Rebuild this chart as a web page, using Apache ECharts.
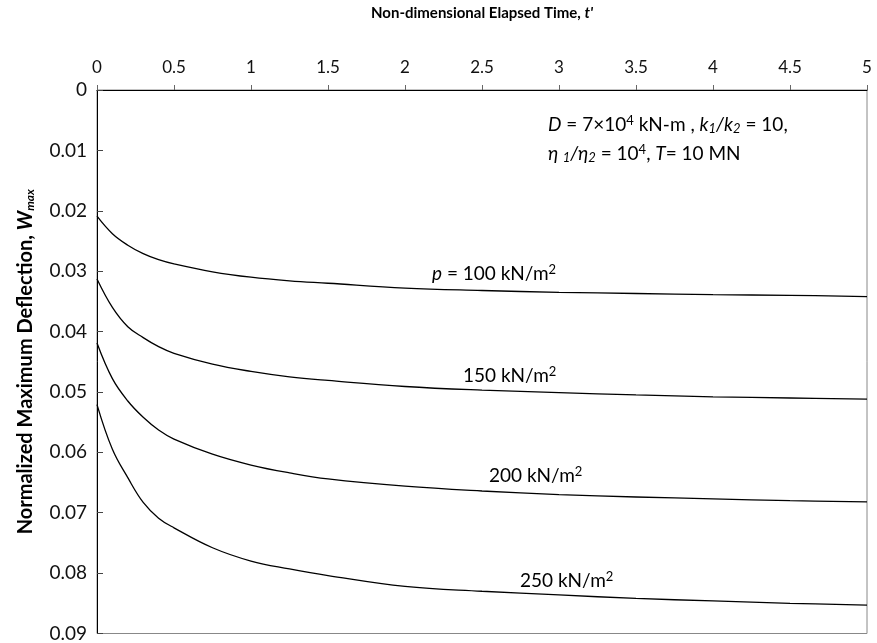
<!DOCTYPE html>
<html>
<head>
<meta charset="utf-8">
<script src="https://cdn.jsdelivr.net/npm/echarts@6/dist/echarts.min.js"></script>
<style>
  html, body { margin: 0; padding: 0; background: #fff; }
  #chart { width: 877px; height: 643px; }
</style>
</head>
<body>
<div id="chart"></div>
<script>
// non-dimensional time t'
const times = [0, 0.1, 0.2, 0.3, 0.4, 0.5, 0.75, 1, 1.25, 1.5, 2, 2.5, 3, 3.5, 4, 4.5, 5];
// normalized max deflection for each load p
const w100 = [0.0209, 0.0238, 0.0257, 0.0271, 0.0281, 0.0288, 0.0301, 0.0310, 0.0316, 0.0320, 0.0328, 0.0332, 0.0335, 0.0337, 0.0339, 0.0340, 0.0342];
const w150 = [0.0313, 0.0360, 0.0392, 0.0410, 0.0425, 0.0436, 0.0454, 0.0466, 0.0475, 0.0481, 0.0491, 0.0497, 0.0501, 0.0505, 0.0508, 0.0510, 0.0512];
const w200 = [0.0419, 0.0478, 0.0515, 0.0542, 0.0563, 0.0578, 0.0603, 0.0621, 0.0634, 0.0644, 0.0656, 0.0664, 0.0670, 0.0674, 0.0677, 0.0680, 0.0682];
const w250 = [0.0521, 0.0595, 0.0642, 0.0683, 0.0709, 0.0725, 0.0758, 0.0780, 0.0793, 0.0804, 0.0822, 0.0830, 0.0836, 0.0842, 0.0846, 0.0850, 0.0853];

const FONT = 'Lato, "Open Sans", sans-serif';

function pairs(ys) {
  return times.map((t, i) => [t, ys[i]]);
}

// rich styles for sub/superscripts
const rich = {
  n: { fontFamily: FONT, fontSize: 19, color: '#000' },
  i: { fontFamily: FONT, fontSize: 19, color: '#000', fontStyle: 'italic' },
  sup: { fontFamily: FONT, fontSize: 13, color: '#000', padding: [0, 0, 8, 0] },
  sub: { fontFamily: FONT, fontSize: 13, color: '#000', fontStyle: 'italic', padding: [8, 0, 0, 0] }
};

function note(x, y, text) {
  return {
    type: 'text', left: x, top: y,
    style: { text: text, rich: rich, font: '19px ' + FONT, fill: '#000' }
  };
}

let myChart = echarts.init(document.getElementById('chart'));
const lineStyle = { color: '#000', width: 1.3 };
const option = {
  animation: false,
  backgroundColor: '#fff',
  grid: { left: 97, right: 10, top: 90, bottom: 9, show: true, borderColor: '#888', borderWidth: 1 },
  xAxis: {
    type: 'value', position: 'top', min: 0, max: 5, interval: 0.5,
    name: "{b|Non-dimensional Elapsed Time, }{bi|t'}",
    nameLocation: 'middle', nameGap: 69,
    nameTextStyle: {
      rich: {
        b: { fontFamily: FONT, fontSize: 15, fontWeight: 'bold', color: '#000' },
        bi: { fontFamily: FONT, fontSize: 15, fontWeight: 'bold', fontStyle: 'italic', color: '#000' }
      }
    },
    axisLine: { lineStyle: { color: '#000', width: 1 } },
    axisTick: { inside: false, length: 5, lineStyle: { color: '#666' } },
    axisLabel: { margin: 14, fontFamily: FONT, fontSize: 17, color: '#111' },
    splitLine: { show: false }
  },
  yAxis: {
    type: 'value', inverse: true, min: 0, max: 0.09, interval: 0.01,
    name: '{b|Normalized Maximum Deflection, }{bi|W}{sub|max}',
    nameLocation: 'middle', nameGap: 61, nameRotate: 90,
    nameTextStyle: {
      rich: {
        b: { fontFamily: FONT, fontSize: 20, fontWeight: 'bold', color: '#000' },
        bi: { fontFamily: FONT, fontSize: 20, fontWeight: 'bold', fontStyle: 'italic', color: '#000' },
        sub: { fontFamily: FONT, fontSize: 12, fontWeight: 'bold', fontStyle: 'italic', color: '#000', padding: [8, 0, 0, 0] }
      }
    },
    axisLine: { show: true, lineStyle: { color: '#000', width: 1 } },
    axisTick: { show: true, inside: true, length: 6, lineStyle: { color: '#444' } },
    axisLabel: { margin: 10, fontFamily: FONT, fontSize: 19, color: '#111',
      formatter: v => (Math.round(v * 100) / 100).toString() },
    splitLine: { show: false }
  },
  series: [
    { name: 'p = 100', type: 'line', data: pairs(w100), showSymbol: false, smooth: 0.4, lineStyle: lineStyle },
    { name: 'p = 150', type: 'line', data: pairs(w150), showSymbol: false, smooth: 0.4, lineStyle: lineStyle },
    { name: 'p = 200', type: 'line', data: pairs(w200), showSymbol: false, smooth: 0.4, lineStyle: lineStyle },
    { name: 'p = 250', type: 'line', data: pairs(w250), showSymbol: false, smooth: 0.4, lineStyle: lineStyle }
  ],
  graphic: [
    note(548, 114, '{i|D}{n| = 7×10}{sup|4}{n| kN-m , }{i|k}{sub|1}{i|/k}{sub|2}{n| = 10,}'),
    note(548, 143, '{i|η }{sub|1}{i|/η}{sub|2}{n| = 10}{sup|4}{n|, }{i|T}{n|= 10 MN}'),
    note(432, 263, '{i|p}{n| = 100 kN/m}{sup|2}'),
    note(463, 365, '{n|150 kN/m}{sup|2}'),
    note(489, 465, '{n|200 kN/m}{sup|2}'),
    note(520, 570, '{n|250 kN/m}{sup|2}')
  ]
};
myChart.setOption(option);
window.addEventListener('resize', () => {
  myChart.resize();
});
</script>
</body>
</html>
